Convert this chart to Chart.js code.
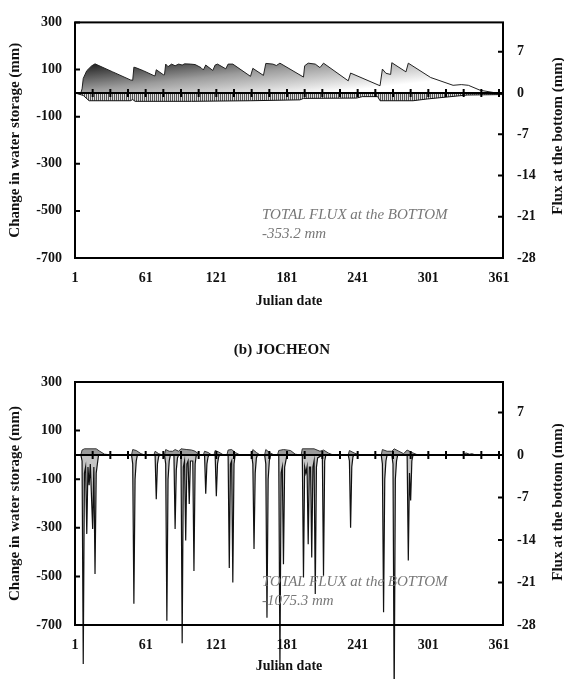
<!DOCTYPE html>
<html>
<head>
<meta charset="utf-8">
<script src="https://cdn.jsdelivr.net/npm/chart.js@4"></script>
<style>
html,body{margin:0;padding:0;background:#fff;}
body{width:564px;height:679px;position:relative;overflow:hidden;font-family:"Liberation Serif","Times New Roman",serif;color:#111;}
canvas{position:absolute;left:0;}
#c1{top:0;}
#c2{top:330px;}
.rt{position:absolute;left:557px;font-weight:bold;font-size:15px;white-space:nowrap;transform:translate(-50%,-50%) rotate(-90deg);z-index:2;}
.heading{position:absolute;top:349px;left:282px;transform:translate(-50%,-50%);font-weight:bold;font-size:15px;white-space:nowrap;z-index:2;}
.note{position:absolute;left:262px;font-style:italic;font-size:15px;color:#777;line-height:19px;white-space:nowrap;z-index:2;}
</style>
</head>
<body>
<canvas id="c1" width="564" height="325"></canvas>
<canvas id="c2" width="564" height="349"></canvas>
<div class="rt" style="top:136px;">Flux at the bottom (mm)</div>
<div class="rt" style="top:502px;">Flux at the bottom (mm)</div>
<div class="heading">(b) JOCHEON</div>
<div class="note" style="top:205px;">TOTAL FLUX at the BOTTOM<br>-353.2 mm</div>
<div class="note" style="top:572px;">TOTAL FLUX at the BOTTOM<br>-1075.3 mm</div>
<script>
// ---------- axis tick values ----------
const xTickLabels = [1, 61, 121, 181, 241, 301, 361];
const leftTicks = [300, 100, -100, -300, -500, -700];
const rightTicks = [7, 0, -7, -14, -21, -28];
const zeroLineTickDays = [1,16,31,46,61,76,91,106,121,136,151,166,181,196,211,226,241,256,271,286,301,316,331,346,361];

// ---------- top chart: change in water storage (mm, left axis) ----------
const storageTopDays = [1,6,7,8,11,15,18,33,48,50,51,53,59,68,69,70,76,77,78,80,83,86,89,92,94,99,103,108,110,112,118,120,122,129,131,135,150,152,161,163,169,172,175,195,196,199,205,209,212,233,235,260,262,265,269,270,282,284,303,322,329,335,345,358,364];
const storageTopVals = [0,1,18,62,95,115,124,90,56,54,110,107,95,74,73,99,78,78,123,112,123,116,123,119,124,123,121,108,98,119,96,119,123,103,123,123,71,105,75,126,123,117,127,68,116,127,123,108,127,52,85,31,102,84,79,129,90,127,66,33,36,33,12,1,0];

// ---------- top chart: flux at the bottom (mm, right axis) ----------
const fluxTopDays = [1,3,8,13,48,50,52,100,150,192,195,240,245,258,260,288,300,334,364];
const fluxTopVals = [0,-0.1,-0.4,-1.3,-1.3,-1.1,-1.4,-1.4,-1.3,-1.15,-0.9,-0.85,-0.6,-0.6,-1.3,-1.3,-1.0,-0.33,-0.25];

// ---------- bottom chart (JOCHEON): change in water storage (mm, left axis) ----------
const storageBotDays = [1,6,7,9,19,22,26,32,49,50,53,57,60,68,69,72,75,77,78,81,84,86,89,91,96,100,103,107,110,111,114,117,119,120,123,127,130,131,134,137,141,151,152,155,158,162,163,166,170,173,174,178,184,188,192,193,194,204,209,212,216,220,233,234,238,242,261,262,266,270,272,276,280,283,287,292,330,333,336,338,341,364];
const storageBotVals = [0,0,20,25,25,15,3,0,0,22,18,5,0,0,15,5,0,0,22,15,15,22,15,25,22,20,15,0,0,15,10,0,0,18,12,0,0,20,22,10,0,0,22,10,0,0,22,10,0,0,18,22,18,3,0,0,25,25,15,20,8,0,0,18,8,0,0,22,15,15,25,15,5,20,10,0,0,8,3,5,0,0];

// ---------- bottom chart (JOCHEON): flux at the bottom (mm, right axis) ----------
const fluxBotDays = [1,6,7,8,9,10,11,12,13,14,16,17,18,19,20,21,
  49,50,51,52,53,54,
  69,70,71,72,73,
  77,78,79,80,81,82,
  85,86,87,88,89,
  91,92,93,94,95,96,97,98,99,101,102,103,104,
  111,112,113,114,115,
  120,121,122,123,124,
  131,132,133,134,135,136,137,
  151,152,153,154,155,156,
  162,163,164,165,166,167,
  174,175,176,177,178,179,180,181,
  194,195,196,197,198,199,200,201,202,203,204,205,206,207,211,212,213,214,
  233,234,235,236,237,238,
  261,262,263,264,265,266,
  270,271,272,273,274,275,
  283,284,285,286,287,288,
  364];
const fluxBotVals = [0,0,-1,-34.4,-3,-2,-13,-2,-5,-1.5,-12.2,-2,-19.6,-3,-1.5,0,
  0,-1.5,-24.5,-4,-1,0,
  0,-7.3,-1.5,-0.3,0,
  0,-1.5,-27.3,-4,-1,0,
  0,-12.2,-2.5,-0.5,0,
  0,-31,-2,-1,-14.1,-1.5,-1,-8.1,-1,-1,-19.1,-1.5,0,
  0,-6.4,-1.5,-0.3,0,
  0,-6.8,-1.5,-0.3,0,
  0,-18.6,-1.5,-1,-21,-1.5,0,
  0,-1.5,-15.5,-3,-0.5,0,
  0,-1.5,-26.8,-4,-1,0,
  0,-35,-3,-2,-18,-2,-1,0,
  0,-20.2,-2,-3,-2,-14.7,-2,-2,-16.9,-2,-1,-22.9,-2,-0.5,0,-19.9,-1,0,
  0,-1,-12,-2,-0.3,0,
  0,-1.5,-25.9,-4,-1,0,
  0,-1.5,-40,-4,-1,0,
  0,-17.4,-3,-7.5,-1,0,
  0];

const pts = (xs, ys) => xs.map((x, i) => ({x: x, y: ys[i]}));

const FONT = '"Liberation Serif","Times New Roman",serif';
Chart.defaults.font.family = FONT;
Chart.defaults.color = '#111';

// frame, inward axis ticks and zero-line tick marks, all placed from the chart's scales
const framePlugin = {
  id: 'frame',
  afterDraw(chart) {
    const {ctx, chartArea: a, scales} = chart;
    ctx.save();
    ctx.strokeStyle = '#000';
    ctx.lineWidth = 2;
    ctx.strokeRect(a.left, a.top, a.right - a.left, a.bottom - a.top);
    ctx.beginPath();
    scales.y.ticks.forEach(t => {
      const py = scales.y.getPixelForValue(t.value);
      ctx.moveTo(a.left, py); ctx.lineTo(a.left + 5, py);
    });
    scales.y2.ticks.forEach(t => {
      const py = scales.y2.getPixelForValue(t.value);
      ctx.moveTo(a.right - 5, py); ctx.lineTo(a.right, py);
    });
    const y0 = scales.y2.getPixelForValue(0);
    zeroLineTickDays.forEach(d => {
      const px = scales.x.getPixelForValue(d);
      ctx.moveTo(px, y0 - 4); ctx.lineTo(px, y0 + 4);
    });
    ctx.stroke();
    ctx.restore();
  }
};

function scalesCfg(xAxisHeight, xTitlePadBottom) {
  const tickFont = {family: FONT, size: 14, weight: 'bold'};
  const titleFont = {family: FONT, size: 15, weight: 'bold'};
  return {
    x: {
      type: 'linear', min: 1, max: 364.4,
      afterBuildTicks: s => { s.ticks = xTickLabels.map(v => ({value: v})); },
      afterFit: s => { s.height = xAxisHeight; },
      grid: {display: false, drawTicks: false},
      border: {display: false},
      ticks: {padding: 12, font: tickFont, color: '#111', maxRotation: 0, autoSkip: false},
      title: {display: true, text: 'Julian date', font: {family: FONT, size: 14, weight: 'bold'}, color: '#111', padding: {top: 0, bottom: xTitlePadBottom}}
    },
    y: {
      position: 'left', min: -700, max: 300,
      afterBuildTicks: s => { s.ticks = leftTicks.map(v => ({value: v})); },
      afterFit: s => { s.width = 75; },
      grid: {display: false, drawTicks: false},
      border: {display: false},
      ticks: {padding: 13, font: tickFont, color: '#111'},
      title: {display: true, text: 'Change in water storage (mm)', font: titleFont, color: '#111', padding: {top: 6, bottom: 0}}
    },
    y2: {
      position: 'right', min: -28, max: 12,
      afterBuildTicks: s => { s.ticks = rightTicks.map(v => ({value: v})); },
      afterFit: s => { s.width = 61; },
      grid: {display: true, drawOnChartArea: true, drawTicks: false, z: 1,
        color: c => (c.tick && c.tick.value === 0) ? '#000' : 'rgba(0,0,0,0)', lineWidth: 2},
      border: {display: false},
      ticks: {padding: 14, font: tickFont, color: '#111'}
    }
  };
}

const baseOptions = (padTop, xAxisHeight, xTitlePad) => ({
  responsive: false,
  animation: false,
  devicePixelRatio: 1,
  layout: {padding: {top: padTop, left: 0, right: 0, bottom: 0}},
  plugins: {legend: {display: false}, tooltip: {enabled: false}, title: {display: false}},
  elements: {point: {radius: 0}, line: {tension: 0}},
  scales: scalesCfg(xAxisHeight, xTitlePad)
});

// hatch pattern for the flux area of the top chart
const pc = document.createElement('canvas');
pc.width = 2; pc.height = 2;
const pctx = pc.getContext('2d');
pctx.fillStyle = '#dcdcdc'; pctx.fillRect(0, 0, 2, 2);
pctx.fillStyle = '#555'; pctx.fillRect(0, 0, 1, 2);
const hatch = pctx.createPattern(pc, 'repeat');

function storageGradient(context) {
  const chart = context.chart;
  if (!chart.chartArea) return '#888';
  const x = chart.scales.x, y = chart.scales.y;
  const x0 = x.getPixelForValue(1), y0 = y.getPixelForValue(130);
  const g = chart.ctx.createLinearGradient(x0, y0, x0 + 6.4, y.getPixelForValue(-115));
  g.addColorStop(0, '#111');
  g.addColorStop(0.5, '#9c9c9c');
  g.addColorStop(1, '#ffffff');
  return g;
}

new Chart(document.getElementById('c1'), {
  type: 'line',
  data: {
    datasets: [
      {label: 'Change in water storage', yAxisID: 'y', data: pts(storageTopDays, storageTopVals),
       borderColor: '#222', borderWidth: 1, fill: 'origin', backgroundColor: storageGradient},
      {label: 'Flux at the bottom', yAxisID: 'y2', data: pts(fluxTopDays, fluxTopVals),
       borderColor: '#111', borderWidth: 1, fill: 'origin', backgroundColor: hatch}
    ]
  },
  options: baseOptions(15, 67, 15),
  plugins: [framePlugin]
});

new Chart(document.getElementById('c2'), {
  type: 'line',
  data: {
    datasets: [
      {label: 'Change in water storage', yAxisID: 'y', data: pts(storageBotDays, storageBotVals),
       borderColor: '#333', borderWidth: 1, fill: 'origin', backgroundColor: '#9a9a9a'},
      {label: 'Flux at the bottom', yAxisID: 'y2', data: pts(fluxBotDays, fluxBotVals), clip: false,
       borderColor: '#111', borderWidth: 1.2, fill: 'origin', backgroundColor: '#c4c4c4'}
    ]
  },
  options: baseOptions(52, 54, 4),
  plugins: [framePlugin]
});
</script>
</body>
</html>
